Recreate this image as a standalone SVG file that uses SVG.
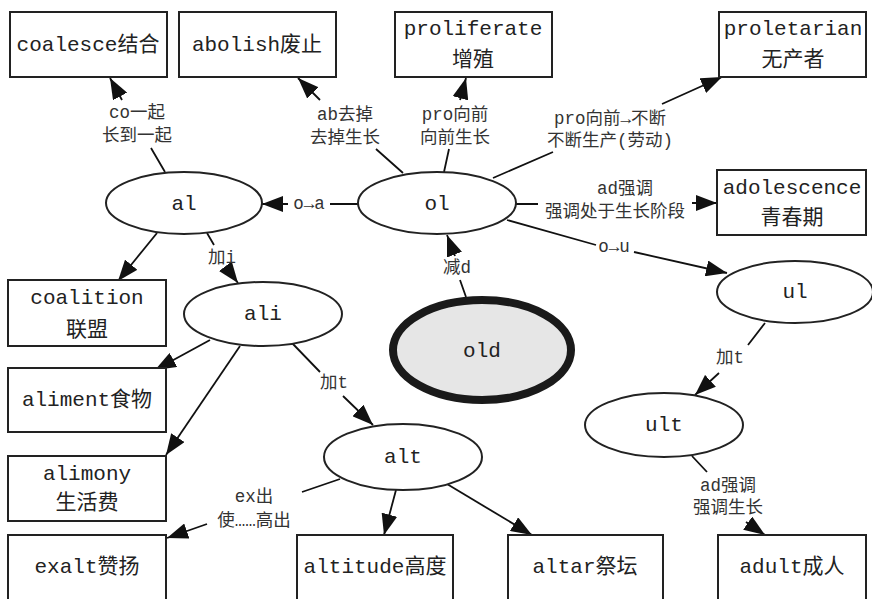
<svg xmlns="http://www.w3.org/2000/svg" width="872" height="599" viewBox="0 0 872 599">
<defs>
<marker id="arr" markerUnits="userSpaceOnUse" markerWidth="22" markerHeight="16" refX="21" refY="8" orient="auto">
<path d="M0,0 L21,8 L0,16 z" fill="#111"/>
</marker>
<style>
.box{fill:#fff;stroke:#222;stroke-width:2}
.ell{fill:#fff;stroke:#222;stroke-width:2}
.t{font-family:"Liberation Mono","Noto Sans CJK SC",monospace;font-size:21px;fill:#222;text-anchor:middle;dominant-baseline:central}
.l{font-family:"Liberation Mono","Noto Sans CJK SC",monospace;font-size:17.5px;fill:#333;text-anchor:middle;dominant-baseline:central}
.e{fill:none;stroke:#111;stroke-width:1.8;marker-end:url(#arr)}
</style>
</defs>
<rect width="872" height="599" fill="#fff"/>
<g id="edges">
<path class="e" d="M165,172 L151,148 M122,100 L110,78"/>
<path class="e" d="M403,173 L376,149 M320,100 L298,78"/>
<path class="e" d="M444,172 L449,149 M460,100 L466,78"/>
<path class="e" d="M493,178 L553,152 M662,104 L722,77"/>
<path class="e" d="M516,204 L538,204 M692,203 L717,203"/>
<path class="e" d="M507,220 L596,245 M634,252 L727,273"/>
<path class="e" d="M358,204 L330,204 M288,204 L262,204"/>
<path class="e" d="M466,297 L460,280 M455,256 L447,235"/>
<path class="e" d="M157,233 L118,281"/>
<path class="e" d="M207,233 L214,245 M229,271 L238,283"/>
<path class="e" d="M210,340 L155,370"/>
<path class="e" d="M240,346 L166,455"/>
<path class="e" d="M292,343 L320,372 M343,396 L373,425"/>
<path class="e" d="M340,479 L302,492 M207,524 L167,538"/>
<path class="e" d="M396,490 L384,535"/>
<path class="e" d="M447,484 L532,535"/>
<path class="e" d="M765,323 L748,345 M719,373 L695,395"/>
<path class="e" d="M692,456 L707,472 M746,522 L765,535"/>
<text class="l" x="137" y="113">co一起</text>
<text class="l" x="137" y="136">长到一起</text>
<text class="l" x="345" y="115">ab去掉</text>
<text class="l" x="345" y="138">去掉生长</text>
<text class="l" x="455" y="115">pro向前</text>
<text class="l" x="455" y="138">向前生长</text>
<text class="l" x="610" y="119">pro向前→不断</text>
<text class="l" x="610" y="141">不断生产(劳动)</text>
<text class="l" x="625" y="189">ad强调</text>
<text class="l" x="615" y="212">强调处于生长阶段</text>
<text class="l" x="614" y="247">o→u</text>
<text class="l" x="309" y="204">o→a</text>
<text class="l" x="457" y="268">减d</text>
<text class="l" x="222" y="258">加i</text>
<text class="l" x="334" y="383">加t</text>
<text class="l" x="254" y="497">ex出</text>
<text class="l" x="254" y="521">使……高出</text>
<text class="l" x="730" y="358">加t</text>
<text class="l" x="728" y="486">ad强调</text>
<text class="l" x="728" y="508">强调生长</text>
</g>
<g id="coalesce"><rect class="box" x="10" y="12" width="157" height="65"/><text class="t" x="88" y="45">coalesce结合</text></g>
<g id="abolish"><rect class="box" x="179" y="12" width="157" height="65"/><text class="t" x="257" y="45">abolish废止</text></g>
<g id="proliferate"><rect class="box" x="395" y="12" width="157" height="65"/><text class="t" x="473" y="29">proliferate</text><text class="t" x="473" y="60">增殖</text></g>
<g id="proletarian"><rect class="box" x="719" y="12" width="147" height="65"/><text class="t" x="793" y="29">proletarian</text><text class="t" x="793" y="60">无产者</text></g>
<g id="adolescence"><rect class="box" x="717" y="170" width="149" height="65"/><text class="t" x="792" y="188">adolescence</text><text class="t" x="792" y="218">青春期</text></g>
<g id="coalition"><rect class="box" x="8" y="280" width="158" height="66"/><text class="t" x="87" y="298">coalition</text><text class="t" x="87" y="330">联盟</text></g>
<g id="aliment"><rect class="box" x="8" y="368" width="158" height="64"/><text class="t" x="87" y="400">aliment食物</text></g>
<g id="alimony"><rect class="box" x="8" y="456" width="158" height="65"/><text class="t" x="87" y="474">alimony</text><text class="t" x="87" y="503">生活费</text></g>
<g id="exalt"><rect class="box" x="8" y="535" width="158" height="70"/><text class="t" x="87" y="567">exalt赞扬</text></g>
<g id="altitude"><rect class="box" x="297" y="535" width="156" height="70"/><text class="t" x="375" y="567">altitude高度</text></g>
<g id="altar"><rect class="box" x="508" y="535" width="155" height="70"/><text class="t" x="585" y="567">altar祭坛</text></g>
<g id="adult"><rect class="box" x="718" y="535" width="148" height="70"/><text class="t" x="792" y="567">adult成人</text></g>
<g id="al"><ellipse class="ell" cx="184" cy="203" rx="78" ry="31"/><text class="t" x="184" y="204">al</text></g>
<g id="ol"><ellipse class="ell" cx="437" cy="203" rx="79" ry="31"/><text class="t" x="437" y="204">ol</text></g>
<g id="ali"><ellipse class="ell" cx="263" cy="314" rx="79" ry="32"/><text class="t" x="263" y="314">ali</text></g>
<g id="old"><ellipse cx="482" cy="350" rx="89" ry="50" fill="#e6e6e6" stroke="#1a1a1a" stroke-width="8"/><text class="t" x="482" y="351">old</text></g>
<g id="ul"><ellipse class="ell" cx="795" cy="292" rx="78" ry="31"/><text class="t" x="795" y="292">ul</text></g>
<g id="ult"><ellipse class="ell" cx="664" cy="425" rx="79" ry="32"/><text class="t" x="664" y="425">ult</text></g>
<g id="alt"><ellipse class="ell" cx="403" cy="457" rx="79" ry="33"/><text class="t" x="403" y="457">alt</text></g>
</svg>
